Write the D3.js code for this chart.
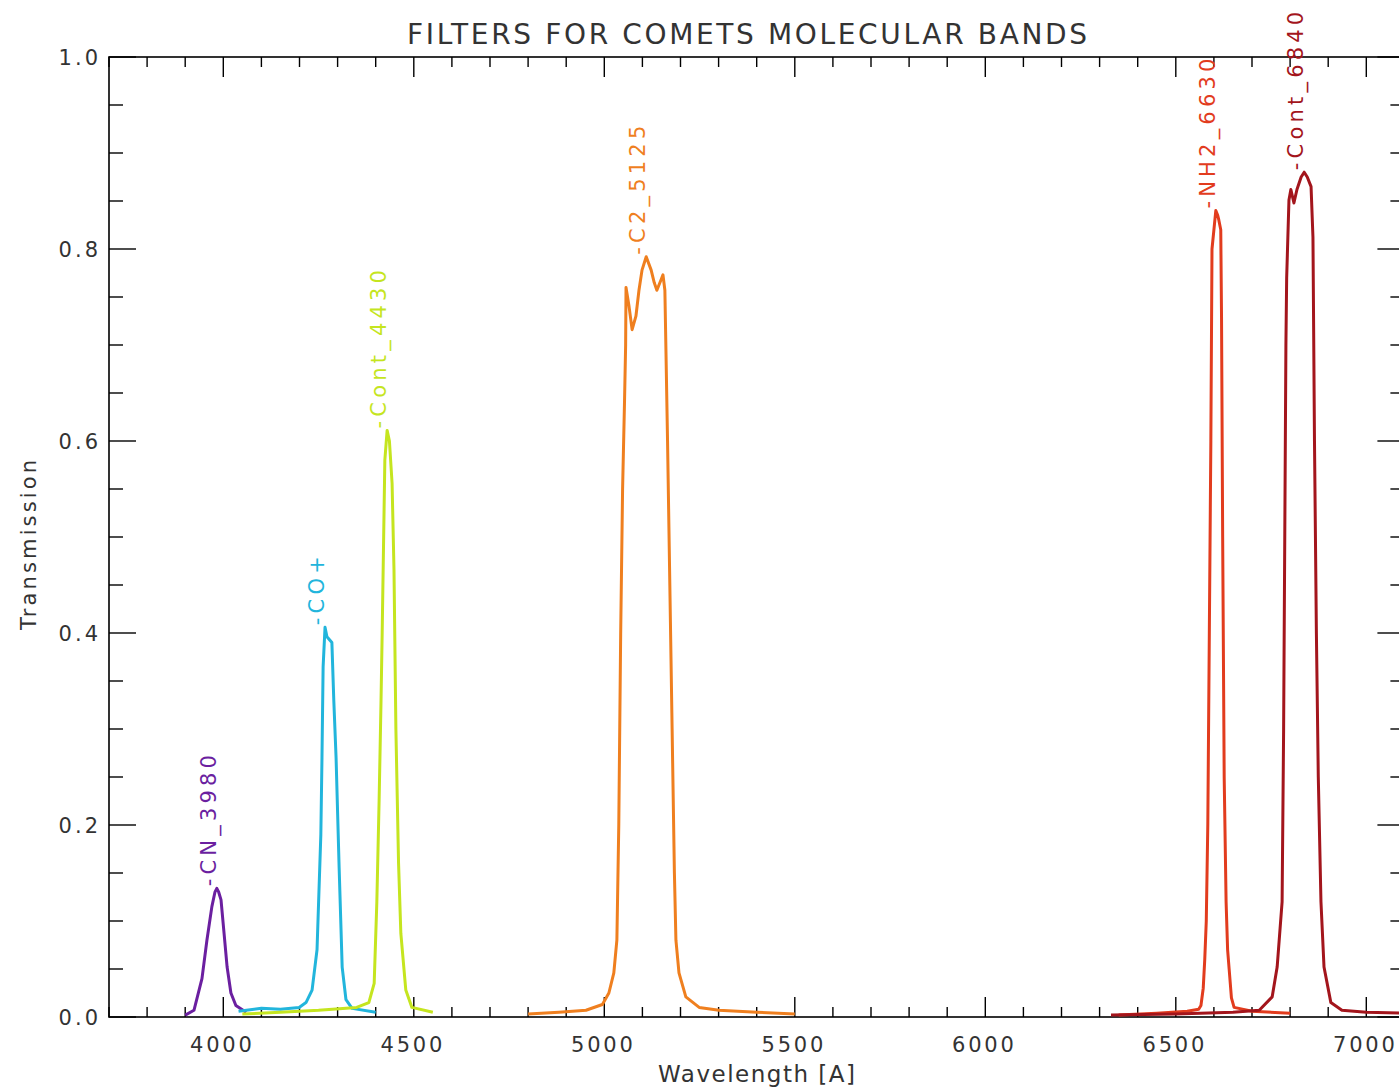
<!DOCTYPE html>
<html>
<head>
<meta charset="utf-8">
<script src="https://cdn.jsdelivr.net/npm/d3@7"></script>
<style>
  html, body { margin: 0; padding: 0; background: #ffffff; }
  svg { display: block; }
  text { font-family: "DejaVu Sans", sans-serif; fill: #333; }
</style>
</head>
<body>
<svg id="chart" width="1399" height="1090"></svg>
<script>
// ---------------- DATA ----------------
const chartTitle = "FILTERS FOR COMETS MOLECULAR BANDS";
const xTitle = "Wavelength [A]";
const yTitle = "Transmission";

const xTickLabels = [4000, 4500, 5000, 5500, 6000, 6500, 7000];
const yTickLabels = [0.0, 0.2, 0.4, 0.6, 0.8, 1.0];

const filterNames = ["CN_3980", "CO+", "Cont_4430", "C2_5125", "NH2_6630", "Cont_6840"];
const filterColors = ["#6b1fa0", "#22b5dc", "#c5e51f", "#ef7f1f", "#e23c1e", "#a3151c"];

const cnWave  = [3900, 3923, 3944, 3957, 3970, 3978, 3983, 3988, 3994, 4002, 4010, 4020, 4033, 4060];
const cnTrans = [0.002, 0.007, 0.04, 0.08, 0.115, 0.13, 0.134, 0.13, 0.122, 0.087, 0.052, 0.025, 0.012, 0.005];

const coWave  = [4040, 4100, 4150, 4199, 4217, 4233, 4246, 4256, 4259, 4262, 4267, 4272, 4285, 4290, 4296, 4304, 4312, 4322, 4338, 4400];
const coTrans = [0.006, 0.009, 0.008, 0.01, 0.015, 0.028, 0.07, 0.19, 0.27, 0.365, 0.406, 0.396, 0.39, 0.33, 0.27, 0.156, 0.052, 0.018, 0.009, 0.005];

const c4430Wave  = [4050, 4150, 4250, 4350, 4382, 4396, 4403, 4409, 4414, 4417, 4424, 4430, 4436, 4443, 4448, 4453, 4460, 4466, 4479, 4495, 4550];
const c4430Trans = [0.003, 0.005, 0.007, 0.01, 0.015, 0.035, 0.12, 0.226, 0.33, 0.4, 0.58, 0.611, 0.6, 0.556, 0.466, 0.3, 0.16, 0.087, 0.028, 0.01, 0.005];

const c2Wave  = [4800, 4881, 4952, 4995, 5012, 5025, 5033, 5038, 5043, 5048, 5053, 5056, 5057, 5065, 5073, 5083, 5091, 5099, 5110, 5123, 5131, 5138, 5149, 5154, 5159, 5162, 5166, 5172, 5178, 5184, 5188, 5196, 5214, 5249, 5301, 5400, 5500];
const c2Trans = [0.003, 0.005, 0.007, 0.013, 0.025, 0.046, 0.08, 0.2, 0.4, 0.55, 0.64, 0.7, 0.76, 0.74, 0.716, 0.73, 0.757, 0.778, 0.792, 0.778, 0.765, 0.757, 0.768, 0.773, 0.757, 0.69, 0.6, 0.45, 0.3, 0.15, 0.08, 0.046, 0.021, 0.01, 0.007, 0.005, 0.003];

const nh2Wave  = [6350, 6450, 6530, 6560, 6566, 6572, 6576, 6580, 6584, 6588, 6592, 6595, 6600, 6605, 6610, 6613, 6618, 6620, 6623, 6627, 6632, 6636, 6640, 6646, 6653, 6700, 6800];
const nh2Trans = [0.002, 0.004, 0.006, 0.008, 0.012, 0.03, 0.06, 0.1, 0.2, 0.4, 0.6, 0.8, 0.82, 0.84, 0.835, 0.83, 0.82, 0.73, 0.5, 0.25, 0.12, 0.07, 0.05, 0.02, 0.01, 0.006, 0.004];

const c6840Wave  = [6330, 6500, 6650, 6719, 6753, 6766, 6779, 6783, 6786, 6789, 6791, 6797, 6802, 6810, 6818, 6829, 6837, 6845, 6855, 6860, 6864, 6869, 6874, 6881, 6889, 6907, 6936, 7000, 7100];
const c6840Trans = [0.002, 0.003, 0.005, 0.007, 0.021, 0.052, 0.12, 0.3, 0.5, 0.7, 0.77, 0.851, 0.862, 0.848, 0.862, 0.875, 0.88, 0.875, 0.865, 0.812, 0.6, 0.4, 0.25, 0.12, 0.052, 0.015, 0.007, 0.005, 0.004];

const seriesWaves  = [cnWave, coWave, c4430Wave, c2Wave, nh2Wave, c6840Wave];
const seriesTrans  = [cnTrans, coTrans, c4430Trans, c2Trans, nh2Trans, c6840Trans];

// ---------------- LAYOUT ----------------
const svg = d3.select("#chart");
const padL = 109, padT = 57, padB = 1017;
const xDomain = [3700, 7100];
const x = d3.scaleLinear().domain(xDomain).range([padL, padL + (xDomain[1] - xDomain[0]) * 0.381]);
const y = d3.scaleLinear().domain([0, 1]).range([padB, padT]);
const padR = x(xDomain[1]);

const axisColor = "#000";
const g = svg.append("g");

// frame
g.append("rect").attr("x", padL).attr("y", padT)
  .attr("width", padR - padL).attr("height", padB - padT)
  .attr("fill", "none").attr("stroke", axisColor).attr("stroke-width", 1.6);

// x ticks (bottom + top), inward
const xMinor = d3.range(3700, 7101, 100);
xMinor.forEach(v => {
  const major = v % 500 === 0;
  const len = major ? 20 : 10;
  g.append("line").attr("x1", x(v)).attr("x2", x(v)).attr("y1", padB).attr("y2", padB - len)
    .attr("stroke", axisColor).attr("stroke-width", 1.4);
  g.append("line").attr("x1", x(v)).attr("x2", x(v)).attr("y1", padT).attr("y2", padT + len)
    .attr("stroke", axisColor).attr("stroke-width", 1.4);
});
// y ticks (left + right)
const yMinor = d3.range(0, 21).map(i => i * 0.05);
yMinor.forEach((v, i) => {
  const major = i % 4 === 0;
  const len = major ? 27 : 14;
  g.append("line").attr("x1", padL).attr("x2", padL + len).attr("y1", y(v)).attr("y2", y(v))
    .attr("stroke", axisColor).attr("stroke-width", 1.4);
  g.append("line").attr("x1", padR).attr("x2", padR - len).attr("y1", y(v)).attr("y2", y(v))
    .attr("stroke", axisColor).attr("stroke-width", 1.4);
});

// tick labels
g.selectAll(".xl").data(xTickLabels).enter().append("text")
  .attr("x", d => x(d) - 1).attr("y", 1052)
  .attr("text-anchor", "middle").attr("font-size", 21).attr("letter-spacing", 2.8)
  .text(d => d);
g.selectAll(".yl").data(yTickLabels).enter().append("text")
  .attr("x", 101).attr("y", d => y(d) + 8)
  .attr("text-anchor", "end").attr("font-size", 21).attr("letter-spacing", 3)
  .text(d => d3.format(".1f")(d));

// titles
svg.append("text").attr("x", 407).attr("y", 44)
  .attr("font-size", 28).attr("textLength", 680).attr("lengthAdjust", "spacing")
  .text(chartTitle);
svg.append("text").attr("x", 658).attr("y", 1082)
  .attr("font-size", 23).attr("textLength", 197).attr("lengthAdjust", "spacing")
  .text(xTitle);
svg.append("text").attr("transform", "translate(36,630) rotate(-90)")
  .attr("font-size", 21).attr("textLength", 170).attr("lengthAdjust", "spacing")
  .text(yTitle);

// curves
svg.append("clipPath").attr("id", "clip").append("rect")
  .attr("x", padL).attr("y", 0).attr("width", padR - padL).attr("height", padB + 2);
const line = d3.line().x(d => x(d[0])).y(d => y(d[1]));
const curves = svg.append("g").attr("clip-path", "url(#clip)");
filterNames.forEach((name, i) => {
  const pts = seriesWaves[i].map((w, j) => [w, seriesTrans[i][j]]);
  curves.append("path").datum(pts)
    .attr("d", line).attr("fill", "none")
    .attr("stroke", filterColors[i]).attr("stroke-width", 3)
    .attr("stroke-linejoin", "round");
});

// labels at peaks
filterNames.forEach((name, i) => {
  const tr = seriesTrans[i];
  const k = d3.maxIndex(tr);
  const px = x(seriesWaves[i][k]) - 1;
  const py = y(tr[k]) - 2;
  svg.append("text")
    .attr("transform", `translate(${px},${py}) rotate(-90)`)
    .attr("font-size", 21).attr("letter-spacing", 4.2)
    .style("fill", filterColors[i])
    .text("-" + name);
});
</script>
</body>
</html>
